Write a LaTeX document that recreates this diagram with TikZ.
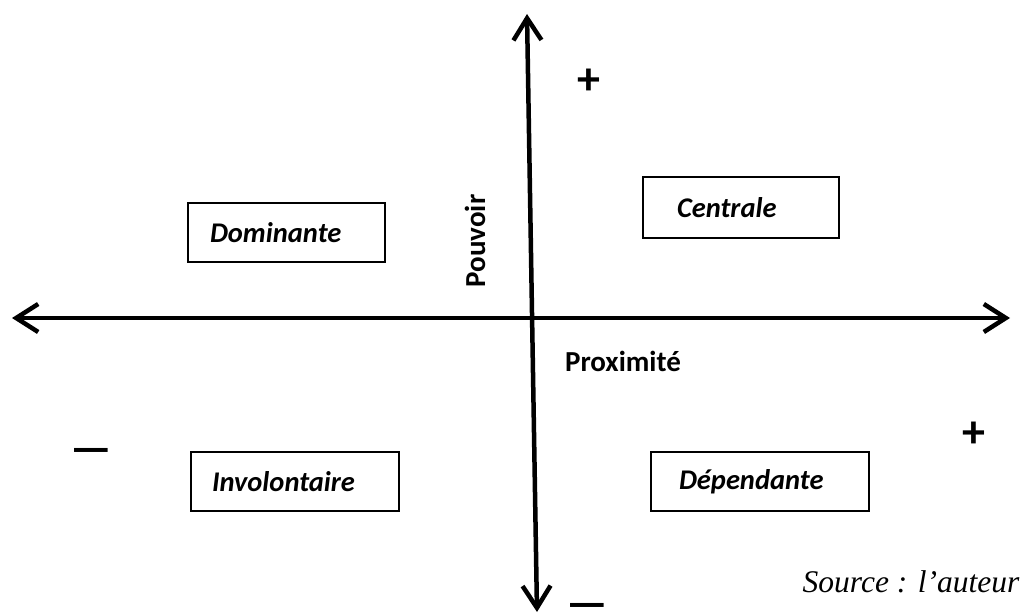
\documentclass[tikz,border=0pt]{standalone}
\usepackage{fontspec}
\setmainfont{Carlito}
\newfontfamily\srcfont{Liberation Serif}
\usetikzlibrary{arrows.meta}
\tikzset{axe/.style={line width=4.5pt, line cap=round, line join=round,
                     {Straight Barb[length=22pt,width=28pt]}-{Straight Barb[length=22pt,width=28pt]}},
         quad/.style={draw, line width=1.6pt, minimum height=59pt, align=left,
                      font=\fontsize{28.5}{32}\selectfont\bfseries\itshape},
         lab/.style={font=\fontsize{29}{32}\selectfont\bfseries, inner sep=0pt},
         sgn/.style={font=\fontsize{46}{48}\selectfont\bfseries, inner sep=0pt},
        }
\begin{document}
\begin{tikzpicture}[x=1pt,y=-1pt]
        \useasboundingbox (0,0) rectangle (1026,613);
        \coordinate (haut) at (527,14);
        \coordinate (bas) at (537,612);
        \coordinate (gauche) at (12,318);
        \coordinate (droite) at (1010,318);
        \draw[axe](gauche)--(droite);
        \draw[axe](haut)--(bas);
        \node[quad, text width=153pt, inner xsep=22pt](dom)at(286.5,232.5){Dominante};
        \node[quad, text width=128pt, inner xsep=34pt, minimum height=61pt](cen)at(741,207.5){Centrale};
        \node[quad, text width=166pt, inner xsep=21pt](inv)at(295,481.5){Involontaire};
        \node[quad, text width=162pt, inner xsep=28pt](dep)at(760,481.5){Dépendante};
        \node[lab, rotate=90](pouv)at(475,241){Pouvoir};
        \node[lab](prox)at(623,361){Proximité};
        \node[sgn](plush)at(589,82){+};
        \node[sgn](plusd)at(974,435){+};
        \node[sgn](moinsg)at(91,456){---};
        \node[sgn](moinsb)at(587,611){---};
        \node[font=\fontsize{31.5}{34}\selectfont\srcfont\itshape, inner sep=0pt](src)at(911,582){Source : l’auteur};
\end{tikzpicture}
\end{document}
